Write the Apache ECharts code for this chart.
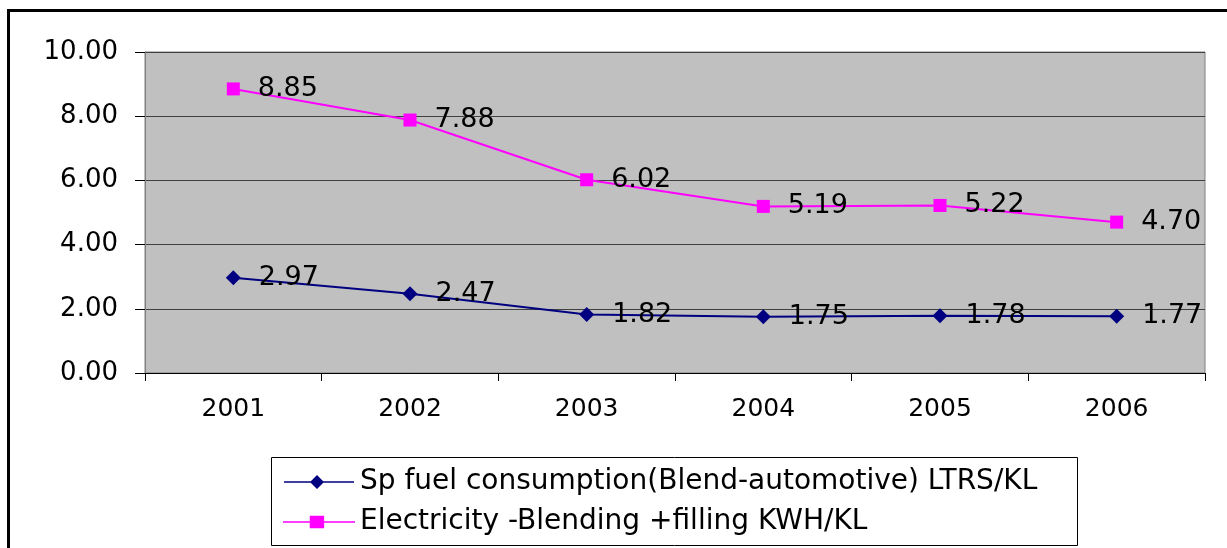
<!DOCTYPE html>
<html>
<head>
<meta charset="utf-8">
<script src="https://cdn.jsdelivr.net/npm/echarts@6/dist/echarts.min.js"></script>
<style>
  html, body { margin: 0; padding: 0; background: #fff; }
  #chart { width: 1227px; height: 548px; }
</style>
</head>
<body>
<div id="chart"></div>
<script>
// Years on the category axis, and the two series.
const years = ["2001", "2002", "2003", "2004", "2005", "2006"];
const fuelName = "Sp fuel consumption(Blend-automotive) LTRS/KL";
const fuelValues = [2.97, 2.47, 1.82, 1.75, 1.78, 1.77];
const elecName = "Electricity -Blending +filling KWH/KL";
const elecValues = [8.85, 7.88, 6.02, 5.19, 5.22, 4.70];

// The source uses a wide Arial-like face; DejaVu Sans is the closest width.
const FONT = "DejaVu Sans, Verdana, sans-serif";
const chart = echarts.init(document.getElementById("chart"));

const labelStyle = {
  show: true, position: "right", distance: 18,
  color: "#000", fontSize: 27, fontFamily: FONT,
  formatter: (p) => p.value.toFixed(2),
};

// legend icons: a line with the marker in the middle (72 x 14 box)
const fuelIcon = "path://M0,6.2H70V7.8H0Z M26,7L33,0L40,7L33,14Z";
const elecIcon = "path://M0,6.2H70V7.8H0Z M26,1H40V13H26Z";

chart.setOption({
  animation: false,
  textStyle: { fontFamily: FONT },
  graphic: [
    // outer chart frame (left + top edges visible in the picture)
    { type: "line", shape: { x1: 8.5, y1: 10, x2: 8.5, y2: 548 }, style: { stroke: "#000", lineWidth: 3 } },
    { type: "line", shape: { x1: 7, y1: 10.5, x2: 1227, y2: 10.5 }, style: { stroke: "#000", lineWidth: 3 } },
    // legend box
    { type: "rect", shape: { x: 271.5, y: 457.5, width: 806, height: 88 },
      style: { fill: "#fff", stroke: "#000", lineWidth: 1 }, z: -1 },
  ],
  grid: {
    left: 145, top: 52, right: 22, height: 321,
    show: true, backgroundColor: "#C0C0C0", borderColor: "#808080", borderWidth: 1,
  },
  legend: {
    orient: "vertical", left: 271, top: 458,
    padding: [10, 8, 10, 12], itemGap: 12, itemWidth: 72, itemHeight: 14,
    textStyle: { fontSize: 28, lineHeight: 28, color: "#000", fontFamily: FONT },
    data: [
      { name: fuelName, icon: fuelIcon },
      { name: elecName, icon: elecIcon },
    ],
  },
  xAxis: {
    type: "category", data: years, boundaryGap: true,
    axisLine: { lineStyle: { color: "#000" } },
    axisTick: { show: true, length: 8, lineStyle: { color: "#000" } },
    axisLabel: { fontSize: 25, color: "#000", margin: 24 },
  },
  yAxis: {
    type: "value", min: 0, max: 10, interval: 2,
    axisLine: { show: true, lineStyle: { color: "#808080" } },
    axisTick: { show: true, length: 10, lineStyle: { color: "#000" } },
    axisLabel: { fontSize: 26, color: "#000", margin: 27, formatter: (v) => v.toFixed(2) },
    splitLine: { show: true, lineStyle: { color: "#404040", width: 1 } },
  },
  series: [
    {
      name: fuelName, type: "line", data: fuelValues,
      symbol: "diamond", symbolSize: 15,
      lineStyle: { color: "#000080", width: 2 },
      itemStyle: { color: "#000080" },
      label: labelStyle,
    },
    {
      name: elecName, type: "line", data: elecValues,
      symbol: "rect", symbolSize: 13,
      lineStyle: { color: "#FF00FF", width: 2 },
      itemStyle: { color: "#FF00FF" },
      label: labelStyle,
    },
  ],
});
</script>
</body>
</html>
